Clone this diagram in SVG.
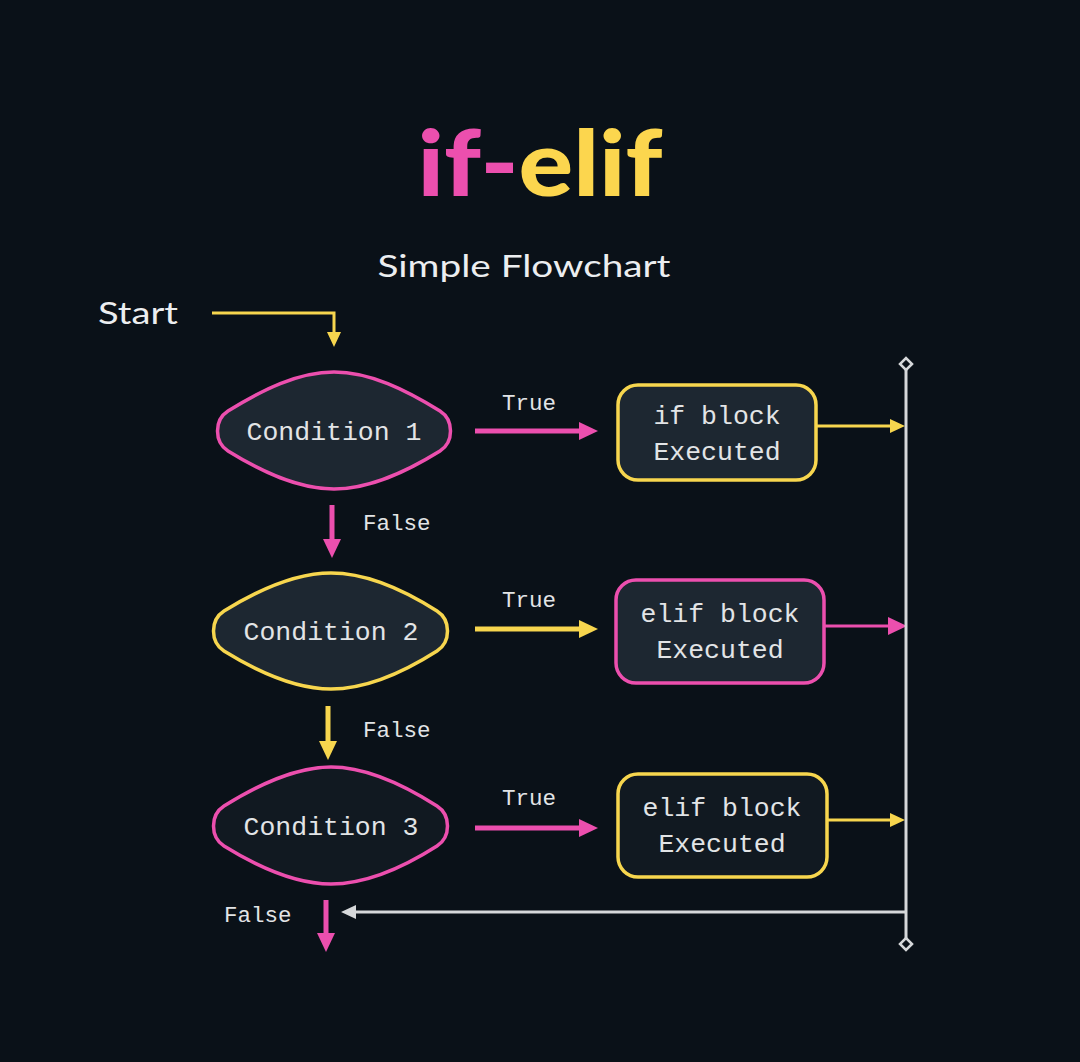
<svg xmlns="http://www.w3.org/2000/svg" width="1080" height="1062" viewBox="0 0 1080 1062">
<defs>
<style>
.bg{fill:#0a1118}
.mono{font-family:"Liberation Mono","DejaVu Sans Mono",monospace;fill:#e2e4e6}
.node-text{font-size:26.5px;text-anchor:middle}
.lbl{font-size:22.5px}
.sans{font-family:"Lato","Noto Sans","Liberation Sans",sans-serif;fill:#eceef0}
.pinkS{stroke:#ec4fae}
.yelS{stroke:#f7d64e}
.cond{stroke-width:3.5;fill:#1d2731}
.cond3{stroke-width:3.5;fill:#111921}
.box{stroke-width:3.5;fill:#1d2731}
.box3{stroke-width:3.5;fill:#111921}
.thick{stroke-width:5;fill:none}
.thin{stroke-width:3;fill:none}
.gray{stroke:#d6d8da;stroke-width:3;fill:none}
</style>
<marker id="hp" markerUnits="userSpaceOnUse" markerWidth="20" markerHeight="20" viewBox="0 0 20 20" refX="8" refY="10" orient="auto"><path d="M0,1 L19,10 L0,19 Z" fill="#ec4fae"/></marker>
<marker id="hy" markerUnits="userSpaceOnUse" markerWidth="16" markerHeight="16" viewBox="0 0 16 16" refX="6" refY="8" orient="auto"><path d="M0,1 L15,8 L0,15 Z" fill="#f7d64e"/></marker>
<marker id="hyb" markerUnits="userSpaceOnUse" markerWidth="20" markerHeight="20" viewBox="0 0 20 20" refX="8" refY="10" orient="auto"><path d="M0,1 L19,10 L0,19 Z" fill="#f7d64e"/></marker>
<marker id="hg" markerUnits="userSpaceOnUse" markerWidth="16" markerHeight="16" viewBox="0 0 16 16" refX="6" refY="8" orient="auto"><path d="M0,1 L15,8 L0,15 Z" fill="#d6d8da"/></marker>
<marker id="dia" markerUnits="userSpaceOnUse" markerWidth="16" markerHeight="16" viewBox="0 0 16 16" refX="8" refY="8" orient="auto"><path d="M8,2 L14,8 L8,14 L2,8 Z" fill="#0a1118" stroke="#d6d8da" stroke-width="2.5"/></marker>
</defs>
<rect class="bg" x="0" y="0" width="1080" height="1062"/>

<g id="title">
<text x="540" y="196" text-anchor="middle" font-family="Lato,Inter,'Noto Sans',sans-serif" font-weight="900" font-size="92" textLength="245" lengthAdjust="spacingAndGlyphs"><tspan fill="#ec4fae">if-</tspan><tspan fill="#fcd64e">elif</tspan></text>
<text class="sans" x="524" y="277" text-anchor="middle" font-size="31" textLength="293" lengthAdjust="spacingAndGlyphs">Simple Flowchart</text>
</g>

<g id="start"><text class="sans" x="98" y="324" font-size="31" textLength="80" lengthAdjust="spacingAndGlyphs">Start</text></g>

<g id="connectors">
<path class="yelS thin" d="M212,313 H334 V338" marker-end="url(#hy)"/>
<path class="pinkS thick" d="M475,431 H587" marker-end="url(#hp)"/>
<path class="yelS thin" d="M816,426 H896" marker-end="url(#hy)"/>
<path class="pinkS thick" d="M332,505 V547" marker-end="url(#hp)"/>
<path class="yelS thick" d="M475,629 H587" marker-end="url(#hyb)"/>
<path class="pinkS thin" d="M824,626 H896" marker-end="url(#hp)"/>
<path class="yelS thick" d="M328,706 V749" marker-end="url(#hyb)"/>
<path class="pinkS thick" d="M475,828 H587" marker-end="url(#hp)"/>
<path class="yelS thin" d="M827,820 H896" marker-end="url(#hy)"/>
<path class="gray" d="M906,912 H350" marker-end="url(#hg)"/>
<path class="pinkS thick" d="M326,900 V941" marker-end="url(#hp)"/>
<path class="gray" d="M906,364 V944" marker-start="url(#dia)" marker-end="url(#dia)"/>
<text class="mono lbl" x="529" y="410" text-anchor="middle">True</text>
<text class="mono lbl" x="529" y="607" text-anchor="middle">True</text>
<text class="mono lbl" x="529" y="805" text-anchor="middle">True</text>
<text class="mono lbl" x="363" y="530">False</text>
<text class="mono lbl" x="363" y="737">False</text>
<text class="mono lbl" x="224" y="922">False</text>
</g>

<g id="cond1">
<path class="cond pinkS" d="M228,411 C262,390 298,372 334,372 C370,372 406,390 440,411 C454,420 454,442 440,451 C406,472 370,489 334,489 C298,489 262,472 228,451 C214,442 214,420 228,411 Z"/>
<text class="mono node-text" x="334" y="440">Condition 1</text>
</g>
<g id="box1">
<rect class="box yelS" x="618" y="385" width="198" height="95" rx="20"/>
<text class="mono node-text" x="717" y="424">if block</text>
<text class="mono node-text" x="717" y="460">Executed</text>
</g>

<g id="cond2">
<path class="cond yelS" d="M224,611 C258,590 295,573 331,573 C367,573 404,590 437,611 C451,620 451,642 437,651 C404,672 367,689 331,689 C295,689 258,672 224,651 C210,642 210,620 224,611 Z"/>
<text class="mono node-text" x="331" y="640">Condition 2</text>
</g>
<g id="box2">
<rect class="box pinkS" x="616" y="580" width="208" height="103" rx="20"/>
<text class="mono node-text" x="720" y="622">elif block</text>
<text class="mono node-text" x="720" y="658">Executed</text>
</g>

<g id="cond3">
<path class="cond3 pinkS" d="M224,806 C258,785 295,767 331,767 C367,767 404,785 437,806 C451,815 451,837 437,846 C404,867 367,884 331,884 C295,884 258,867 224,846 C210,837 210,815 224,806 Z"/>
<text class="mono node-text" x="331" y="835">Condition 3</text>
</g>
<g id="box3">
<rect class="box3 yelS" x="618" y="774" width="209" height="103" rx="20"/>
<text class="mono node-text" x="722" y="816">elif block</text>
<text class="mono node-text" x="722" y="852">Executed</text>
</g>
</svg>
